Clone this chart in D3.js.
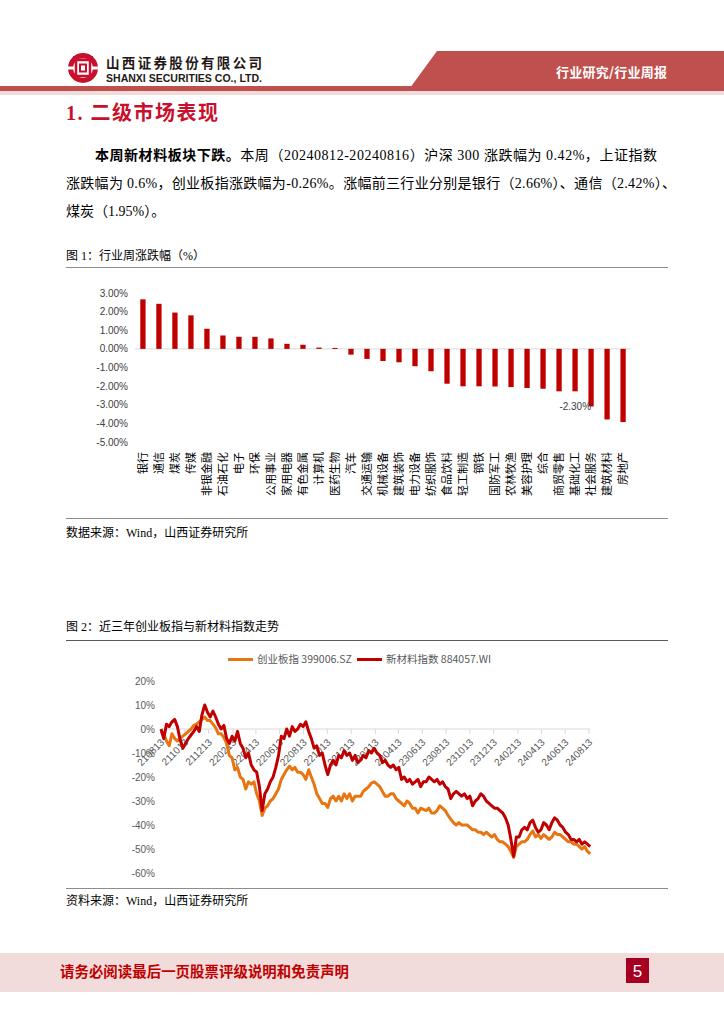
<!DOCTYPE html>
<html><head><meta charset="utf-8">
<script src="https://cdn.jsdelivr.net/npm/d3@7"></script>
<style>
html,body{margin:0;padding:0;background:#fff;}
svg{display:block;}
</style></head>
<body><svg id="page" width="724" height="1024"></svg>
<script>
// ---------- Chart 1 data: weekly industry change (%) ----------
const industries = ["银行","通信","煤炭","传媒","非银金融","石油石化","电子","环保","公用事业","家用电器","有色金属","计算机","医药生物","汽车","交通运输","机械设备","建筑装饰","电力设备","纺织服饰","食品饮料","轻工制造","钢铁","国防军工","农林牧渔","美容护理","综合","商贸零售","基础化工","社会服务","建筑材料","房地产"];
const weeklyChange = [2.66,2.42,1.95,1.80,1.08,0.72,0.65,0.65,0.56,0.27,0.22,0.07,0.05,-0.31,-0.54,-0.65,-0.72,-0.93,-1.20,-1.87,-2.01,-2.01,-2.02,-2.05,-2.10,-2.14,-2.28,-2.28,-3.09,-3.79,-3.93];
const barYTicks = [3,2,1,0,-1,-2,-3,-4,-5];
const barAnnotationCategory = "社会服务";
const barAnnotationText = "-2.30%";

// ---------- Chart 2 data: weekly index performance (%) ----------
const weekStart = "2021-08-13";
const weekEnd = "2024-08-16";
const lineTickLabels = ["210813","211013","211213","220213","220413","220613","220813","221013","221213","230213","230413","230613","230813","231013","231213","240213","240413","240613","240813"];
const lineYTicks = [20,10,0,-10,-20,-30,-40,-50,-60];
const seriesNames = ["创业板指 399006.SZ","新材料指数 884057.WI"];
const cybIndex = [
 -1,-2,-5,-7,-2,-4,-5,-4,-3,-2,
 -1,0,1.5,2,3,4,5,3.5,3.5,2,
 0.5,-2,-2,-3.5,-6,-11,-12,-17,-16,-20,
 -21,-25,-22,-23,-22,-27,-30,-36,-33,-32,
 -30,-29,-27,-25,-21,-19,-17,-15.5,-17,-16,
 -18,-18,-19,-21,-17,-20,-23,-27,-29,-31,
 -31,-32.7,-29,-28,-30,-28,-30,-27,-29,-27,
 -30,-28,-28,-28,-26,-25,-24,-22.5,-22,-23,
 -24,-26,-28,-28,-27,-27,-29,-30,-31,-32,
 -30,-31,-33,-33,-35,-33,-33.5,-34,-33,-35,
 -35,-34,-32,-33,-34,-36,-37.6,-39,-40,-39,
 -40,-40,-40,-41,-42,-42,-43,-43,-44,-43,
 -44,-45,-44,-46,-47,-47,-48,-49,-51,-53.5,
 -49,-48,-47,-47,-46,-44,-42.5,-45,-44,-45.6,
 -44,-45,-46,-45,-43,-44,-44,-45,-46,-47,
 -47,-48,-48,-49,-50,-49,-51,-52];
const newMaterialIndex = [
 0,-4,2,1,3,4,1,-4.5,-8,-6,
 -4,-2.5,-1,1,-1,6,10,7,5,7.5,
 5,2,0,1.5,-4,-6,-3,-5,-1,-6,
 -8,-12,-10,-15,-17,-18,-24,-34,-27,-25,
 -22,-20,-16,-11,-3,-4,0,-3,1,-1,
 0,2,1,3,-1,-4,-8,-7,-11,-10,
 -15,-19,-15,-13,-15,-11,-12,-9,-11,-10,
 -13,-11,-14,-13,-11,-12,-9,-10,-8,-10,
 -11,-14,-13,-15,-16,-15,-17,-16,-21,-20,
 -22,-21,-23,-22,-21,-24,-22,-22,-20,-21,
 -22,-21,-23,-22,-24,-25,-29,-27,-26,-27,
 -28,-27,-29,-28,-32,-30,-29,-27,-28,-30,
 -31,-32,-33,-33,-34,-35,-37,-40,-46,-53,
 -45,-45,-42,-41,-42,-39,-38,-41,-43,-42,
 -39,-40,-42,-39,-37,-38,-40,-41,-43,-44,
 -46,-46,-47,-46,-48,-47,-48,-49];

// ---------- page ----------
const svg = d3.select("#page");
const CJK = "'Noto Sans CJK SC', sans-serif";
const SERIF = "'Liberation Serif', 'Noto Sans CJK SC', serif";
const SANS = "'Liberation Sans', 'Noto Sans CJK SC', sans-serif";
const RED = "#c0504d";

// header
svg.append("polygon").attr("points","437,51 724,51 724,88 410,88").attr("fill",RED);
svg.append("rect").attr("x",0).attr("y",86).attr("width",724).attr("height",5).attr("fill",RED);
svg.append("rect").attr("x",0).attr("y",91).attr("width",724).attr("height",4).attr("fill","#f2dcdb");
svg.append("text").attr("x",556).attr("y",77).attr("font-family",CJK).attr("font-size",13).attr("font-weight","bold")
  .attr("fill","#fff").attr("textLength",111).text("行业研究/行业周报");

const logo = svg.append("g").attr("transform","translate(83,68)");
const LR = "#c8102e";
logo.append("circle").attr("r",12.5).attr("fill","none").attr("stroke",LR).attr("stroke-width",5);
logo.append("rect").attr("x",-16).attr("y",-1.5).attr("width",32).attr("height",3).attr("fill","#fff");
logo.append("rect").attr("x",-7).attr("y",-8).attr("width",14).attr("height",16).attr("fill","none").attr("stroke",LR).attr("stroke-width",2.5);
logo.append("rect").attr("x",-3).attr("y",-3.5).attr("width",6).attr("height",7).attr("fill","none").attr("stroke",LR).attr("stroke-width",2);
logo.append("rect").attr("x",-10).attr("y",-12).attr("width",20).attr("height",2.5).attr("fill",LR);
svg.append("text").attr("x",106).attr("y",68).attr("font-family",CJK).attr("font-size",13.5).attr("font-weight","bold")
  .attr("fill","#231815").attr("textLength",156).text("山西证券股份有限公司");
svg.append("text").attr("x",106).attr("y",82).attr("font-family","'Liberation Sans Narrow','Liberation Sans',sans-serif").attr("font-size",10.5).attr("font-weight","bold")
  .attr("fill","#231815").attr("textLength",156).attr("lengthAdjust","spacingAndGlyphs").text("SHANXI SECURITIES CO., LTD.");

// title
svg.append("text").attr("x",66).attr("y",120).attr("font-family",SERIF).attr("font-size",20).attr("font-weight","bold")
  .attr("fill","#c8102e").attr("textLength",152).text("1. 二级市场表现");

// paragraph
const p1 = svg.append("text").attr("x",95).attr("y",160).attr("font-family",SERIF).attr("font-size",14).attr("fill","#000").attr("textLength",562);
p1.append("tspan").attr("font-weight","bold").text("本周新材料板块下跌。");
p1.append("tspan").text("本周（20240812-20240816）沪深 300 涨跌幅为 0.42%，上证指数");
svg.append("text").attr("x",66).attr("y",188).attr("font-family",SERIF).attr("font-size",14).attr("fill","#000").attr("textLength",610)
  .text("涨跌幅为 0.6%，创业板指涨跌幅为-0.26%。涨幅前三行业分别是银行（2.66%）、通信（2.42%）、");
svg.append("text").attr("x",66).attr("y",216).attr("font-family",SERIF).attr("font-size",14).attr("fill","#000")
  .text("煤炭（1.95%）。");

// captions and frame lines
function caption(y, t){ svg.append("text").attr("x",66).attr("y",y).attr("font-family",SERIF).attr("font-size",12).attr("fill","#000").text(t); }
function hline(y, c){ svg.append("line").attr("x1",66).attr("x2",668).attr("y1",y).attr("y2",y).attr("stroke",c).attr("stroke-width",1); }
caption(260,"图 1：行业周涨跌幅（%）");
hline(267.5,"#8c8c8c");
hline(518.5,"#8c8c8c");
caption(537,"数据来源：Wind，山西证券研究所");
caption(631,"图 2：近三年创业板指与新材料指数走势");
hline(640.5,"#595959");
hline(888.5,"#8c8c8c");
caption(905,"资料来源：Wind，山西证券研究所");

// ---------- Chart 1 ----------
const xb = d3.scaleBand().domain(industries).range([135,631]).paddingInner(0.67).paddingOuter(0.33);
const yb = d3.scaleLinear().domain([-5,3]).range([442,293]);
const g1 = svg.append("g");
g1.selectAll("text.yt").data(barYTicks).join("text").attr("class","yt")
  .attr("x",128).attr("y",d=>yb(d)).attr("dy","0.35em").attr("text-anchor","end")
  .attr("font-family",SANS).attr("font-size",10).attr("fill","#404040")
  .text(d=>d.toFixed(2)+"%");
g1.append("line").attr("x1",135).attr("x2",631).attr("y1",yb(0)).attr("y2",yb(0)).attr("stroke","#d9d9d9").attr("stroke-width",1);
g1.selectAll("rect.bar").data(industries).join("rect").attr("class","bar")
  .attr("x",d=>xb(d)).attr("width",xb.bandwidth())
  .attr("y",(d,i)=>Math.min(yb(0),yb(weeklyChange[i])))
  .attr("height",(d,i)=>Math.max(1,Math.abs(yb(weeklyChange[i])-yb(0))))
  .attr("fill","#c00000");
g1.selectAll("text.cat").data(industries).join("text").attr("class","cat")
  .attr("transform",d=>`translate(${xb(d)+xb.bandwidth()/2},452) rotate(-90)`)
  .attr("text-anchor","end").attr("dy","0.35em")
  .attr("font-family",CJK).attr("font-size",11).attr("fill","#000").text(d=>d);
const ai = industries.indexOf(barAnnotationCategory);
g1.append("text").attr("x",xb(barAnnotationCategory)+xb.bandwidth()/2).attr("y",yb(weeklyChange[ai]))
  .attr("dy","0.35em").attr("text-anchor","end").attr("font-family",SANS).attr("font-size",10).attr("fill","#404040").text(barAnnotationText);

// ---------- Chart 2 ----------
const parseD = d3.timeParse("%Y-%m-%d");
const parseT = d3.timeParse("%y%m%d");
const weeks = d3.timeFriday.range(parseD(weekStart), d3.timeDay.offset(parseD(weekEnd),1));
const n = Math.min(weeks.length, cybIndex.length, newMaterialIndex.length);
const xl = d3.scaleTime().domain([parseT(lineTickLabels[0]), parseT(lineTickLabels[lineTickLabels.length-1])]).range([161,589]);
const yl = d3.scaleLinear().domain([-60,20]).range([873,681]);
const g2 = svg.append("g");
g2.selectAll("text.yt").data(lineYTicks).join("text").attr("class","yt")
  .attr("x",155).attr("y",d=>yl(d)).attr("dy","0.35em").attr("text-anchor","end")
  .attr("font-family",SANS).attr("font-size",10).attr("fill","#595959").text(d=>d+"%");
g2.append("line").attr("x1",161).attr("x2",590).attr("y1",yl(0)).attr("y2",yl(0)).attr("stroke","#d9d9d9");
g2.selectAll("line.tk").data(lineTickLabels).join("line").attr("class","tk")
  .attr("x1",d=>xl(parseT(d))).attr("x2",d=>xl(parseT(d))).attr("y1",yl(0)).attr("y2",yl(0)+5).attr("stroke","#d9d9d9");
g2.selectAll("text.xt").data(lineTickLabels).join("text").attr("class","xt")
  .attr("transform",d=>`translate(${xl(parseT(d))+4},${yl(0)+14}) rotate(-45)`)
  .attr("text-anchor","end").attr("font-family",SANS).attr("font-size",10).attr("fill","#595959").text(d=>d);

const line = d3.line().x(d=>xl(d[0])).y(d=>yl(d[1])).curve(d3.curveLinear);
const cybPts = d3.range(n).map(i=>[weeks[i], cybIndex[i]]);
const nmPts = d3.range(n).map(i=>[weeks[i], newMaterialIndex[i]]);
const colors = ["#e8750f","#c00000"];
g2.append("path").datum(cybPts).attr("d",line).attr("fill","none").attr("stroke",colors[0]).attr("stroke-width",3).attr("stroke-linejoin","round");
g2.append("path").datum(nmPts).attr("d",line).attr("fill","none").attr("stroke",colors[1]).attr("stroke-width",3).attr("stroke-linejoin","round");

// legend
const legX = [228, 357];
seriesNames.forEach((s,i)=>{
  g2.append("line").attr("x1",legX[i]).attr("x2",legX[i]+25).attr("y1",659.5).attr("y2",659.5).attr("stroke",colors[i]).attr("stroke-width",3);
  g2.append("text").attr("x",legX[i]+29).attr("y",659.5).attr("dy","0.35em").attr("font-family",CJK).attr("font-size",10.5).attr("fill","#595959").text(s);
});

// footer
svg.append("rect").attr("x",0).attr("y",953).attr("width",724).attr("height",39).attr("fill","#f2dcdb");
svg.append("text").attr("x",60).attr("y",977).attr("font-family",CJK).attr("font-size",14.4).attr("font-weight","bold")
  .attr("fill","#c00000").attr("textLength",289).text("请务必阅读最后一页股票评级说明和免责声明");
svg.append("rect").attr("x",626).attr("y",958).attr("width",23).attr("height",25).attr("fill","#a50021");
svg.append("text").attr("x",637.5).attr("y",977).attr("text-anchor","middle").attr("font-family","'Liberation Sans Narrow','Liberation Sans',sans-serif").attr("font-size",17).attr("fill","#fff").text("5");
</script>
</body></html>
